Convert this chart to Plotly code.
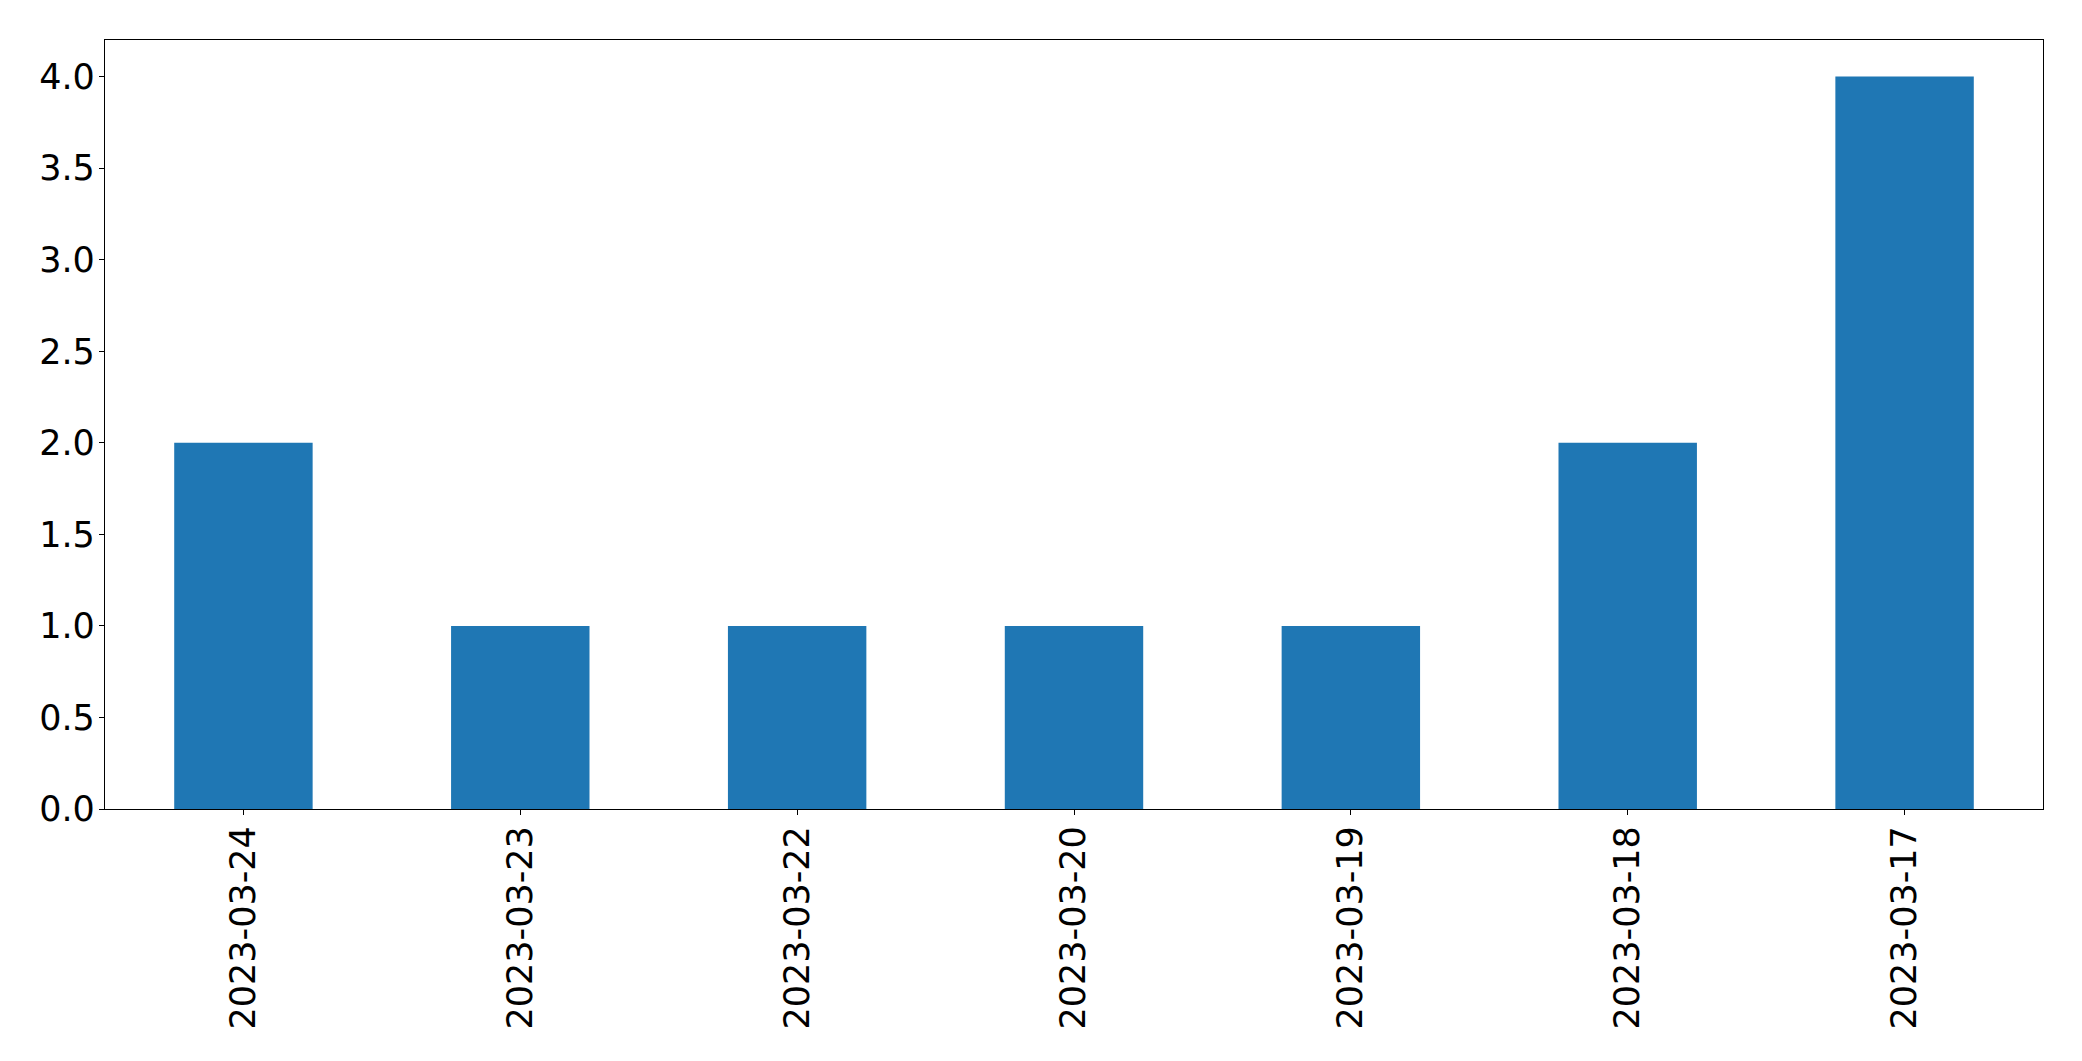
import plotly.graph_objects as go

categories = ["2023-03-24", "2023-03-23", "2023-03-22", "2023-03-20", "2023-03-19", "2023-03-18", "2023-03-17"]
values = [2, 1, 1, 1, 1, 2, 4]
y_ticks = [0.0, 0.5, 1.0, 1.5, 2.0, 2.5, 3.0, 3.5, 4.0]
y_tick_labels = ["0.0", "0.5", "1.0", "1.5", "2.0", "2.5", "3.0", "3.5", "4.0"]

fig = go.Figure(go.Bar(x=categories, y=values, width=0.5, marker=dict(color="#1f77b4", line=dict(width=0))))

font = dict(family="DejaVu Sans", size=35, color="black")
fig.update_layout(
    width=2074, height=1053,
    margin=dict(l=97, r=39, t=32, b=252),
    plot_bgcolor="white", paper_bgcolor="white",
    showlegend=False,
    font=font,
    bargap=0.5,
)
fig.update_xaxes(
    type="category", range=[-0.5, 6.5],
    showline=True, mirror=True, linecolor="black", linewidth=1.3,
    ticks="outside", ticklen=5, tickwidth=1.3, tickcolor="black",
    tickangle=-90, tickfont=font, showgrid=False, zeroline=False,
    ticklabelstandoff=-3,
)
fig.update_yaxes(
    range=[0, 4.2], tickvals=y_ticks, ticktext=y_tick_labels,
    showline=True, mirror=True, linecolor="black", linewidth=1.3,
    ticks="outside", ticklen=5, tickwidth=1.3, tickcolor="black",
    tickfont=font, showgrid=False, zeroline=False,
    ticklabelstandoff=-3,
)
fig.write_html("out.html")
